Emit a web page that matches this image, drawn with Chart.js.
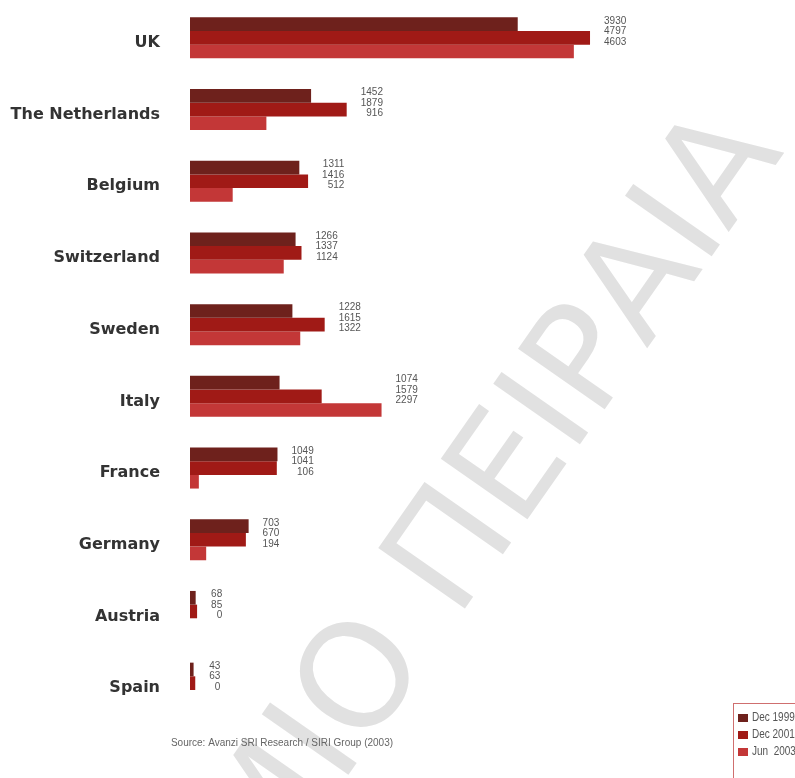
<!DOCTYPE html>
<html>
<head>
<meta charset="utf-8">
<script src="https://cdn.jsdelivr.net/npm/chart.js@4/dist/chart.umd.min.js"></script>
<style>
  html, body { margin: 0; padding: 0; background: #fff; }
  #wrap { width: 795px; height: 778px; position: relative; }
</style>
</head>
<body>
<div id="wrap"><canvas id="c" width="795" height="778"></canvas></div>
<script>
  const countries = ["UK", "The Netherlands", "Belgium", "Switzerland", "Sweden", "Italy", "France", "Germany", "Austria", "Spain"];
  const seriesNames = ["Dec 1999", "Dec 2001", "Jun  2003"];
  const dec1999 = [3930, 1452, 1311, 1266, 1228, 1074, 1049, 703, 68, 43];
  const dec2001 = [4797, 1879, 1416, 1337, 1615, 1579, 1041, 670, 85, 63];
  const jun2003 = [4603, 916, 512, 1124, 1322, 2297, 106, 194, 0, 0];
  const seriesColors = ["#6e211c", "#a01a16", "#c33737"];
  const sourceText = "Source: Avanzi SRI Research / SIRI Group (2003)";
  const watermark = "ΠΑΝΕΠΙΣΤΗΜΙΟ ΠΕΙΡΑΙΑ";

  const watermarkPlugin = {
    id: "watermark",
    beforeDraw(chart) {
      const ctx = chart.ctx;
      ctx.save();
      ctx.font = "145px 'DejaVu Sans'";
      ctx.fillStyle = "#e1e1e1";
      const prefix = ctx.measureText("ΠΑΝΕΠΙΣΤΗΜΙ").width;
      const wO = ctx.measureText("Ο").width;
      ctx.translate(355, 675);
      ctx.rotate(-55 * Math.PI / 180);
      ctx.textAlign = "left";
      ctx.textBaseline = "alphabetic";
      ctx.fillText(watermark, -(prefix + wO / 2), 52);
      ctx.restore();
    },
  };

  const valueLabels = {
    id: "valueLabels",
    afterDatasetsDraw(chart) {
      const ctx = chart.ctx;
      const offsets = [-17, -6.5, 4];
      ctx.save();
      ctx.font = "10px 'Liberation Sans'";
      ctx.fillStyle = "#555";
      ctx.textAlign = "right";
      ctx.textBaseline = "middle";
      countries.forEach((_, i) => {
        const els = chart.data.datasets.map((d, j) => chart.getDatasetMeta(j).data[i]);
        const maxEnd = Math.max(...els.map((e) => e.x));
        const texts = chart.data.datasets.map((d) => String(d.data[i]));
        const maxW = Math.max(...texts.map((t) => ctx.measureText(t).width));
        const cy = els[1].y;
        const right = maxEnd + 14 + maxW;
        texts.forEach((t, j) => ctx.fillText(t, right, cy + offsets[j]));
      });
      ctx.restore();
    },
  };

  const extras = {
    id: "extras",
    afterDraw(chart) {
      const ctx = chart.ctx;
      ctx.save();
      // source line
      ctx.font = "10px 'Liberation Sans'";
      ctx.fillStyle = "#666";
      ctx.textAlign = "center";
      ctx.textBaseline = "middle";
      ctx.fillText(sourceText, 282, 743);
      // legend box
      ctx.strokeStyle = "#cf6f6f";
      ctx.lineWidth = 1;
      ctx.strokeRect(733.5, 703.5, 80, 90);
      ctx.font = "12.5px 'Liberation Sans'";
      ctx.textAlign = "left";
      chart.data.datasets.forEach((d, j) => {
        const y = 718 + j * 17;
        ctx.fillStyle = d.backgroundColor;
        ctx.fillRect(738, y - 4, 10, 8);
        ctx.fillStyle = "#555";
        ctx.save();
        ctx.translate(752, y);
        ctx.scale(0.8, 1);
        ctx.fillText(d.label, 0, 0);
        ctx.restore();
      });
      ctx.restore();
    },
  };

  new Chart(document.getElementById("c"), {
    type: "bar",
    data: {
      labels: countries,
      datasets: [dec1999, dec2001, jun2003].map((vals, j) => ({
        label: seriesNames[j],
        data: vals,
        backgroundColor: seriesColors[j],
        borderWidth: 0,
        barPercentage: 1,
        categoryPercentage: 0.572,
      })),
    },
    options: {
      indexAxis: "y",
      responsive: false,
      animation: false,
      layout: { padding: { top: 2, bottom: 59, left: 0, right: 0 } },
      plugins: { legend: { display: false }, tooltip: { enabled: false } },
      scales: {
        x: { display: false, min: 0, max: 7255 },
        y: {
          grid: { display: false, drawTicks: false },
          border: { display: false },
          ticks: {
            color: "#333",
            font: { family: "'DejaVu Sans'", size: 16, weight: "bold" },
            padding: 30,
            labelOffset: 5,
          },
          afterFit(scale) {
            scale.width = 190;
            scale.paddingTop = 0;
            scale.paddingBottom = 0;
          },
        },
      },
    },
    plugins: [watermarkPlugin, valueLabels, extras],
  });
</script>
</body>
</html>
